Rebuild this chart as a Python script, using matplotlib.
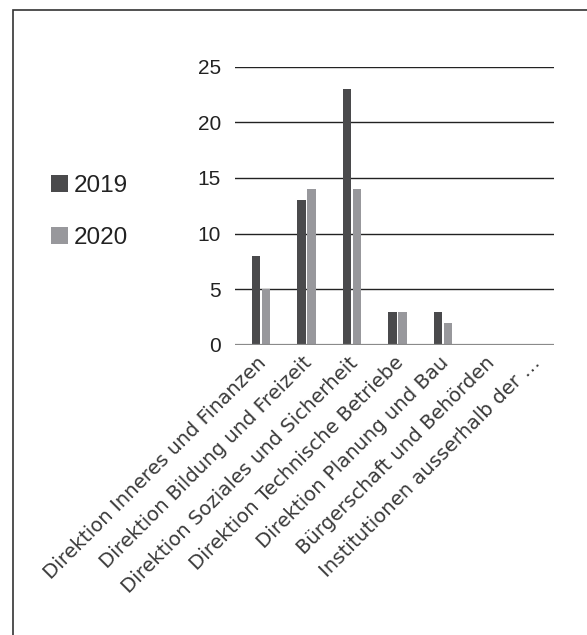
import matplotlib
matplotlib.use("Agg")
import matplotlib.pyplot as plt
import matplotlib.transforms as mtransforms
import numpy as np
from matplotlib.patches import Rectangle

plt.rcParams['font.family'] = ['Liberation Sans', 'DejaVu Sans']

categories = [
    "Direktion Inneres und Finanzen",
    "Direktion Bildung und Freizeit",
    "Direktion Soziales und Sicherheit",
    "Direktion Technische Betriebe",
    "Direktion Planung und Bau",
    "Bürgerschaft und Behörden",
    "Institutionen ausserhalb der …",
]
series_names = ["2019", "2020"]
values_2019 = [8, 13, 23, 3, 3, 0, 0]
values_2020 = [5, 14, 14, 3, 2, 0, 0]
colors = ["#4a4a4c", "#98989c"]

fig = plt.figure(figsize=(5.87, 6.35), dpi=100)
ax = fig.add_axes([235 / 587, 1 - 345 / 635, 319 / 587, 278.5 / 635])

x = np.arange(len(categories))
w = 0.182
gap = 0.037
b1 = ax.bar(x - (w + gap) / 2, values_2019, w, color=colors[0], zorder=3, label=series_names[0])
b2 = ax.bar(x + (w + gap) / 2, values_2020, w, color=colors[1], zorder=3, label=series_names[1])

# plot area is slightly offset relative to the groups in the original
ax.set_xlim(-0.566, len(categories) - 0.566)
ax.set_ylim(0, 25)
ax.set_yticks(range(0, 26, 5))
ax.yaxis.grid(True, color="#222222", linewidth=1, zorder=0)
ax.axhline(0, color="#8a8a8a", linewidth=1.6, zorder=4)
for s in ax.spines.values():
    s.set_visible(False)
ax.tick_params(axis="both", length=0)
ax.tick_params(axis="y", labelsize=15, labelcolor="#222222", pad=10)
ax.set_xticks(x)
ax.set_xticklabels(categories, rotation=45, ha="right", rotation_mode="anchor",
                   fontsize=14.2, color="#3a3a3a", family="DejaVu Sans")
ax.tick_params(axis="x", pad=6)
shift = mtransforms.ScaledTranslation(-4 / 100, 0, fig.dpi_scale_trans)
for lbl in ax.get_xticklabels():
    lbl.set_transform(lbl.get_transform() + shift)

fig.legend(handles=[b1, b2], labels=series_names, loc="upper left",
           bbox_to_anchor=(0.07, 0.74), frameon=False, fontsize=17.5,
           handlelength=0.7, handleheight=0.7, handletextpad=0.25,
           labelspacing=1.25, labelcolor="#222222", borderaxespad=0)

# outer frame (left and top edges visible)
fig.patches.append(Rectangle((13 / 587, -0.1), 1.2, 1.1 - 10 / 635,
                             transform=fig.transFigure, fill=False,
                             edgecolor="#333333", linewidth=1.2))

fig.savefig("out.png", dpi=100)
